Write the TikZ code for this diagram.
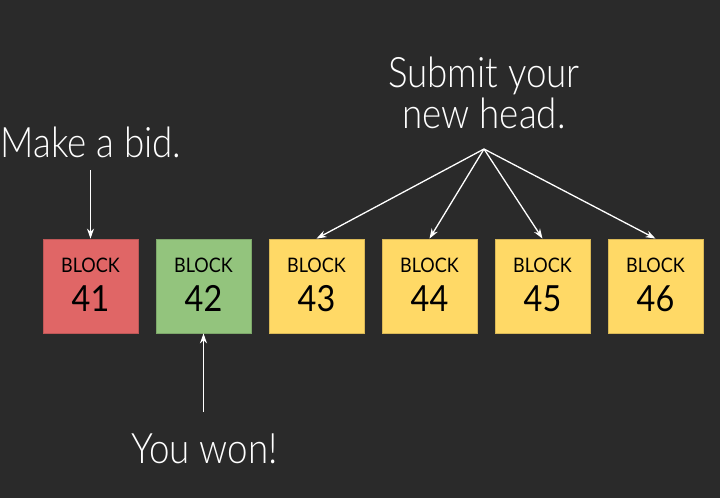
\documentclass[tikz,border=0pt]{standalone}
\usepackage{fontspec}
\setmainfont{Lato}[UprightFont=* Light, FakeStretch=0.875]
\newfontfamily\boxfont{Lato}[FakeStretch=0.9]
\usetikzlibrary{arrows.meta}
\definecolor{bg}{HTML}{2A2A2A}
\definecolor{bred}{HTML}{E06666}
\definecolor{bgreen}{HTML}{93C47D}
\definecolor{byellow}{HTML}{FFD966}
\tikzset{
  blockbox/.style={draw=#1!85!black, fill=#1, line width=0.8pt, minimum width=95pt, minimum height=94pt, inner sep=0pt},
  blocklbl/.style={anchor=base, inner sep=0pt, font={\boxfont\fontsize{20}{20}\selectfont}, text=black},
  blocknum/.style={anchor=base, inner sep=0pt, font={\boxfont\fontsize{36}{36}\selectfont}, text=black},
  caption/.style={anchor=base, inner sep=0pt, font={\fontsize{42}{42}\selectfont}, text=white},
  arr/.style={draw=white, line width=1.3pt, -{Stealth[length=10pt,width=7pt]}}
}
\begin{document}
\begin{tikzpicture}[x=1pt,y=-1pt]
\fill[bg] (0,0) rectangle (720,498);
\useasboundingbox (0,0) rectangle (720,498);
\foreach \n/\x/\c in {41/90.5/bred,42/203.5/bgreen,43/316.5/byellow,44/429.5/byellow,45/542.5/byellow,46/655.5/byellow}{
  \node[blockbox=\c] (b\n) at (\x,286) {};
  \node[blocklbl] (t\n) at (\x,272) {BLOCK};
  \node[blocknum] (n\n) at (\x,311) {\n};
}
\node[caption] (bid) at (91,157) {Make a bid.};
\node[caption] (sub1) at (484,87) {Submit your};
\node[caption] (sub2) at (484,128) {new head.};
\node[caption] (won) at (204.5,463) {You won!};
\coordinate (apex) at (484,149);
\coordinate (bidtail) at (90.5,170);
\coordinate (wontail) at (203.5,412);
\draw[arr] (bidtail) -- (b41.north);
\draw[arr] (wontail) -- (b42.south);
\foreach \n in {43,44,45,46}{
  \draw[arr] (apex) -- (b\n.north);
}
\end{tikzpicture}
\end{document}
